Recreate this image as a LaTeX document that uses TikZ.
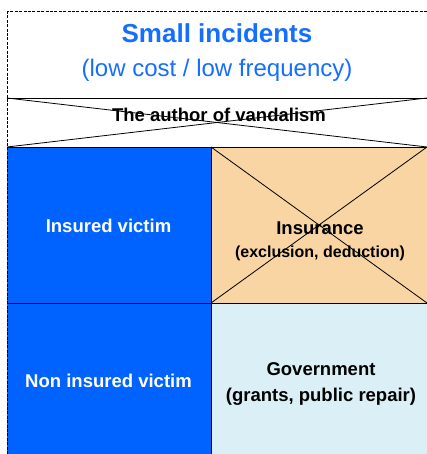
\documentclass[tikz,border=0pt]{standalone}
\usepackage{fontspec}
\setmainfont{Liberation Sans}
\definecolor{cellblue}{RGB}{0,99,255}
\definecolor{titleblue}{RGB}{20,110,255}
\definecolor{tan}{RGB}{248,213,163}
\definecolor{lightcyan}{RGB}{219,240,246}
\tikzset{
  cell/.style={draw=black, line width=0.9pt},
  cross/.style={draw=black, line width=0.8pt},
  wlabel/.style={text=white, font=\bfseries\fontsize{18.5}{22}\selectfont},
  blabel/.style={text=black, font=\bfseries\fontsize{18.5}{22}\selectfont},
  slabel/.style={text=black, font=\bfseries\fontsize{16}{19}\selectfont},
}
\begin{document}
\begin{tikzpicture}[x=1pt,y=-1pt]
\useasboundingbox (0,0) rectangle (427,454);
% cells
\fill[cellblue] (7,147) rectangle (211,303);
\fill[cellblue] (7,303) rectangle (211,470);
\fill[tan] (211,147) rectangle (440,303);
\fill[lightcyan] (211,303) rectangle (440,470);
\draw[cell] (7,98) -- (440,98);
\draw[cell] (7,147) -- (440,147);
\draw[cell] (7,303) -- (440,303);
\draw[cell] (211,147) -- (211,470);
% outer dashed border
\draw[black, line width=0.8pt, dash pattern=on 3pt off 1.4pt] (7,11) rectangle (440,470);
% texts
\node[text=titleblue, font=\bfseries\fontsize{26}{30}\selectfont] (title) at (217,33) {Small incidents};
\node[text=titleblue, font=\fontsize{24}{28}\selectfont] (sub) at (217,70) {(low cost / low frequency)};
\node[blabel] (author) at (219,115) {The author of vandalism};
\node[wlabel] (ins) at (108.5,226) {Insured victim};
\node[wlabel] (nonins) at (108.5,381) {Non insured victim};
\node[blabel] (insur) at (320,228) {Insurance};
\node[slabel] (insur2) at (320,253) {(exclusion, deduction)};
\node[blabel] (gov) at (321,369) {Government};
\node[blabel] (gov2) at (321,397) {(grants, public repair)};
% crosses
\draw[cross] (7,98) -- (427,147);
\draw[cross] (7,147) -- (427,98);
\draw[cross] (211,147) -- (427,303);
\draw[cross] (211,303) -- (427,147);
\end{tikzpicture}
\end{document}
